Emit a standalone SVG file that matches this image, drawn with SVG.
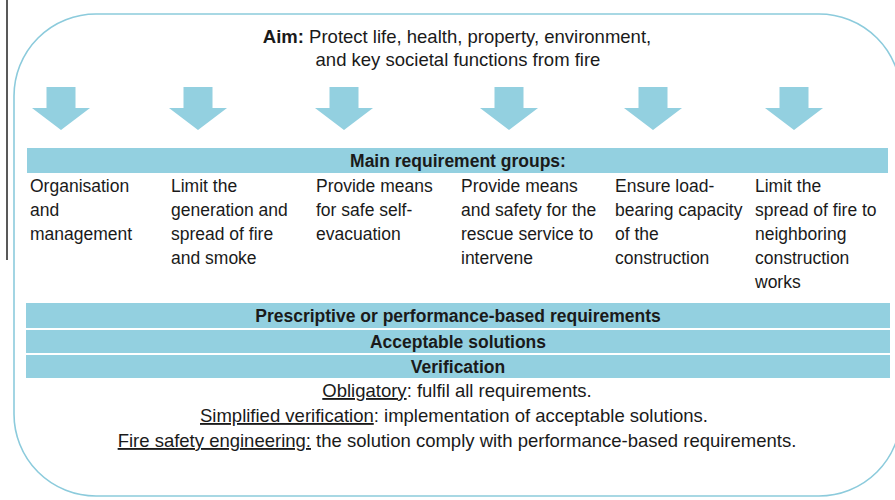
<svg xmlns="http://www.w3.org/2000/svg" width="895" height="500" viewBox="0 0 895 500">
<style>
text{font-family:"Liberation Sans",Arial,sans-serif;fill:#1a1a1a;font-size:17.5px}
.b{font-weight:bold}
.c{text-anchor:middle}
.l{font-size:18.5px}
.bar{fill:#93d0e0}
.arr{fill:#93d0e0}
.u{text-decoration:underline}
</style>
<defs>
<path id="arrow" d="M-14.5,0 H14.5 V21 H29 L0,43 L-29,21 H-14.5 Z"/>
</defs>
<rect width="895" height="500" fill="#ffffff"/>
<line x1="7" y1="0" x2="7" y2="260" stroke="#222" stroke-width="1.5"/>
<rect id="frame" x="14" y="14" width="887" height="482" rx="82" ry="82" fill="none" stroke="#8ccbdc" stroke-width="1.6"/>
<g id="aim">
<text class="c l" x="457" y="43"><tspan class="b">Aim:</tspan> Protect life, health, property, environment,</text>
<text class="c l" x="458" y="66">and key societal functions from fire</text>
</g>
<g id="connectors">
<use href="#arrow" class="arr" x="61" y="87"/>
<use href="#arrow" class="arr" x="198" y="87"/>
<use href="#arrow" class="arr" x="344" y="87"/>
<use href="#arrow" class="arr" x="509" y="87"/>
<use href="#arrow" class="arr" x="653" y="87"/>
<use href="#arrow" class="arr" x="794" y="87"/>
</g>
<g id="main-groups">
<rect class="bar" x="27" y="148" width="861" height="25"/>
<text class="c b" x="458" y="167">Main requirement groups:</text>
</g>
<g id="col1"><text x="30" y="192"><tspan x="30">Organisation</tspan><tspan x="30" dy="24">and</tspan><tspan x="30" dy="24">management</tspan></text></g>
<g id="col2"><text x="171" y="192"><tspan x="171">Limit the</tspan><tspan x="171" dy="24">generation and</tspan><tspan x="171" dy="24">spread of fire</tspan><tspan x="171" dy="24">and smoke</tspan></text></g>
<g id="col3"><text x="316" y="192"><tspan x="316">Provide means</tspan><tspan x="316" dy="24">for safe self-</tspan><tspan x="316" dy="24">evacuation</tspan></text></g>
<g id="col4"><text x="461" y="192"><tspan x="461">Provide means</tspan><tspan x="461" dy="24">and safety for the</tspan><tspan x="461" dy="24">rescue service to</tspan><tspan x="461" dy="24">intervene</tspan></text></g>
<g id="col5"><text x="615" y="192"><tspan x="615">Ensure load-</tspan><tspan x="615" dy="24">bearing capacity</tspan><tspan x="615" dy="24">of the</tspan><tspan x="615" dy="24">construction</tspan></text></g>
<g id="col6"><text x="755" y="192"><tspan x="755">Limit the</tspan><tspan x="755" dy="24">spread of fire to</tspan><tspan x="755" dy="24">neighboring</tspan><tspan x="755" dy="24">construction</tspan><tspan x="755" dy="24">works</tspan></text></g>
<g id="prescriptive">
<rect class="bar" x="26" y="303" width="864" height="25"/>
<text class="c b" x="458" y="322">Prescriptive or performance-based requirements</text>
</g>
<g id="acceptable">
<rect class="bar" x="26" y="330" width="864" height="23"/>
<text class="c b" x="458" y="348">Acceptable solutions</text>
</g>
<g id="verification">
<rect class="bar" x="26" y="355" width="864" height="23"/>
<text class="c b" x="458" y="373">Verification</text>
</g>
<g id="verification-notes">
<text class="c l" x="457" y="397"><tspan class="u">Obligatory</tspan>: fulfil all requirements.</text>
<text class="c l" x="454" y="422"><tspan class="u">Simplified verification</tspan>: implementation of acceptable solutions.</text>
<text class="c l" x="457" y="447"><tspan class="u">Fire safety engineering:</tspan> the solution comply with performance-based requirements.</text>
</g>
</svg>
